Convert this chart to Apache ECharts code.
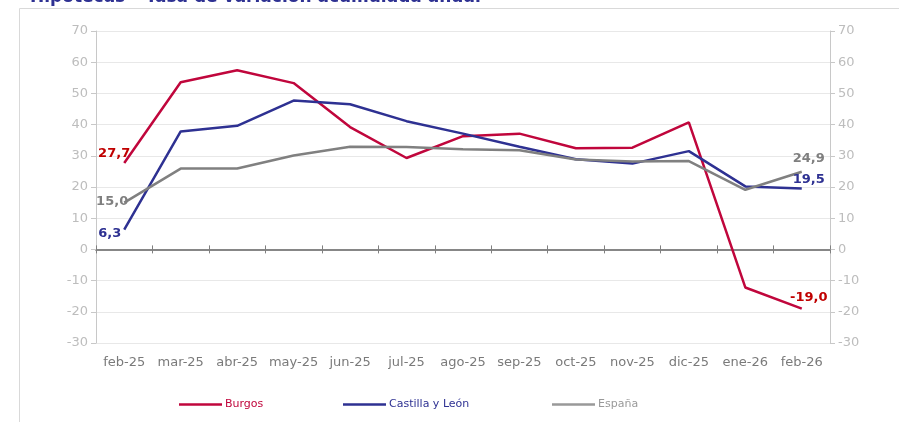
<!DOCTYPE html>
<html>
<head>
<meta charset="utf-8" />
<title>Hipotecas - Tasa de variación acumulada anual</title>
<script src="https://cdn.jsdelivr.net/npm/echarts@6/dist/echarts.min.js"></script>
<style>
	html, body { margin: 0; padding: 0; background: #fff; }
	#chart { width: 899px; height: 422px; }
</style>
</head>
<body>
<div id="chart"></div>
<script>
	// meses
	var meses = ['feb-25', 'mar-25', 'abr-25', 'may-25', 'jun-25', 'jul-25', 'ago-25',
		'sep-25', 'oct-25', 'nov-25', 'dic-25', 'ene-26', 'feb-26'];
	// tasa de variación acumulada anual (%)
	var burgos = [27.7, 53.6, 57.4, 53.3, 39.2, 29.3, 36.3, 37.1, 32.4, 32.6, 40.7, -12.2, -19.0];
	var castillaLeon = [6.3, 37.8, 39.6, 47.7, 46.5, 41.1, 37.1, 32.9, 28.9, 27.5, 31.5, 20.2, 19.5];
	var espana = [15.0, 25.9, 25.9, 30.1, 32.9, 32.8, 32.1, 31.8, 28.8, 28.2, 28.3, 19.1, 24.9];
	var yTicks = [-30, -20, -10, 0, 10, 20, 30, 40, 50, 60, 70];

	var fuente = 'DejaVu Sans';
	var cBurgos = '#C0063C';
	var cCyl = '#2E3192';
	var cEsp = '#808080';

	var myChart = echarts.init(document.getElementById('chart'), null, { renderer: 'canvas' });

	function etiqueta(color, pos, offset) {
		return {
			show: true,
			position: pos,
			distance: 2,
			offset: offset,
			opacity: 1,
			formatter: function(p) {
				return p.value.toFixed(1).replace('.', ',');
			},
			color: color,
			fontFamily: fuente,
			fontWeight: 'bold',
			fontSize: 13
		};
	}

	// solo se etiquetan el primer y el ultimo mes
	function datosConEtiquetas(valores, lblIni, lblFin) {
		return valores.map(function(v, i) {
			if (i === 0) return { value: v, label: lblIni };
			if (i === valores.length - 1) return { value: v, label: lblFin };
			return v;
		});
	}

	function serie(nombre, datos, color) {
		return {
			name: nombre,
			type: 'line',
			data: datos,
			symbol: 'circle',
			symbolSize: 0.1,
			showSymbol: true,
			lineStyle: { color: color, width: 2.5 },
			itemStyle: { color: color },
			label: { show: false },
			emphasis: { disabled: true },
			z: 3
		};
	}

	var yAxisBase = {
		type: 'value',
		min: yTicks[0],
		max: yTicks[yTicks.length - 1],
		interval: 10,
		axisLine: { show: true, lineStyle: { color: '#C8C8C8', width: 1 } },
		axisTick: { show: true, length: 5, lineStyle: { color: '#C8C8C8' } },
		axisLabel: { color: '#BDBDBD', fontFamily: fuente, fontSize: 13, margin: 8 },
		splitLine: { show: false }
	};

	var series = [
		serie('Burgos', datosConEtiquetas(burgos,
			etiqueta('#C00000', 'left', [8, -9]),
			etiqueta('#C00000', 'top', [7, -3])), cBurgos),
		serie('Castilla y León', datosConEtiquetas(castillaLeon,
			etiqueta(cCyl, 'left', [-1, 4]),
			etiqueta(cCyl, 'top', [7, 0])), cCyl),
		serie('España', datosConEtiquetas(espana,
			etiqueta('#7F7F7F', 'left', [6, -1]),
			etiqueta('#7F7F7F', 'top', [7, -5])), cEsp)
	];

	function leyenda(nombre, color, colorTexto, izq) {
		return {
			left: izq,
			top: 399,
			padding: 0,
			itemWidth: 43,
			itemHeight: 2.5,
			icon: 'rect',
			selectedMode: false,
			data: [{ name: nombre, textStyle: { color: colorTexto }, itemStyle: { color: color, opacity: 1 } }],
			textStyle: { fontFamily: fuente, fontSize: 11, padding: [0, 0, 0, -2] }
		};
	}

	myChart.setOption({
		animation: false,
		graphic: [{
			type: 'rect',
			shape: { x: 19.5, y: 8.5, width: 920, height: 430 },
			style: { fill: 'none', stroke: '#D9D9D9', lineWidth: 1 },
			silent: true
		}, {
			type: 'text',
			x: 30,
			y: 6,
			style: {
				text: 'Hipotecas – Tasa de variación acumulada anual',
				fill: '#2E3192',
				font: 'bold 17px "DejaVu Sans"',
				verticalAlign: 'bottom'
			},
			silent: true
		}],
		legend: [
			leyenda('Burgos', cBurgos, cBurgos, 179),
			leyenda('Castilla y León', cCyl, cCyl, 343),
			leyenda('España', '#999999', '#999999', 552)
		],
		grid: { left: 96, right: 69, top: 31, bottom: 79, outerBoundsMode: 'none', containLabel: false },
		xAxis: [{
			type: 'category',
			data: meses,
			boundaryGap: true,
			position: 'bottom',
			axisLine: { onZero: true, lineStyle: { color: '#808080', width: 1.5 } },
			axisTick: { show: true, length: 4, lineStyle: { color: '#808080' } },
			axisLabel: { color: '#7A7A7A', fontFamily: fuente, fontSize: 13, margin: 13, interval: 0 },
			splitLine: { show: false }
		}, {
			type: 'category',
			data: meses,
			boundaryGap: true,
			position: 'top',
			axisLine: { onZero: true, lineStyle: { color: '#808080', width: 1.5 } },
			axisTick: { show: true, length: 4, lineStyle: { color: '#808080' } },
			axisLabel: { show: false },
			splitLine: { show: false }
		}],
		yAxis: [
			Object.assign({}, yAxisBase, {
				position: 'left',
				splitLine: { show: true, lineStyle: { color: '#E8E8E8', width: 1 } }
			}),
			Object.assign({}, yAxisBase, { position: 'right' })
		],
		series: series
	});

	window.onresize = function() {
		myChart.resize();
	};
</script>
</body>
</html>
